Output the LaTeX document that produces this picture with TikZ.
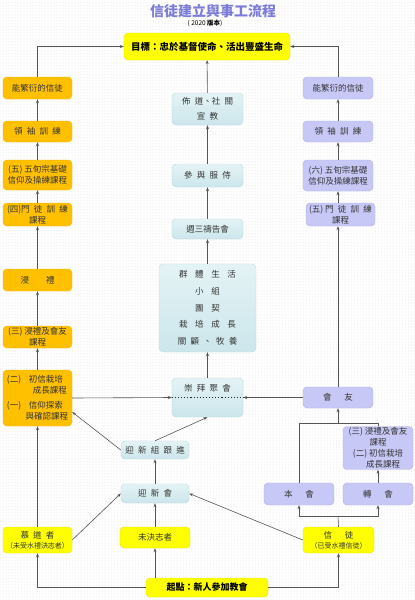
\documentclass[tikz,border=0pt]{standalone}
\usepackage{fontspec}
\setmainfont{Noto Sans CJK TC}
\usetikzlibrary{arrows.meta,calc,patterns}
\definecolor{ylw}{HTML}{FFFF00}
\definecolor{ylwb}{HTML}{E2E200}
\definecolor{org}{HTML}{FFC000}
\definecolor{orgb}{HTML}{F0B400}
\definecolor{tealA}{HTML}{E4F3F5}
\definecolor{tealB}{HTML}{CCE6EB}
\definecolor{tealb}{HTML}{BCDCE2}
\definecolor{lav}{HTML}{C8C8F7}
\definecolor{lavb}{HTML}{ADADE8}
\definecolor{ttl}{HTML}{7B7BD9}
\definecolor{lnc}{HTML}{555555}
\definecolor{txt}{HTML}{333333}
\newcommand\gp{\hspace{0.5em}}
\newcommand\gw{\hspace{0.9em}}
\begin{document}
\begin{tikzpicture}[x=1pt,y=-1pt,
  box/.style={rounded corners=4pt, inner sep=1pt, align=center, text=txt,
    font=\fontsize{8.5}{11}\selectfont},
  ybox/.style={box, fill=ylw, draw=ylwb},
  obox/.style={box, fill=org, draw=orgb},
  tbox/.style={box, top color=tealA, bottom color=tealB, draw=tealb},
  pbox/.style={box, fill=lav, draw=lavb},
  sz/.style 2 args={minimum width=#1pt, minimum height=#2pt},
  arr/.style={draw=lnc, line width=0.6pt, -{Stealth[length=4pt,width=3pt]}},
  lnk/.style={draw=lnc, line width=0.6pt}]
\useasboundingbox (0,0) rectangle (415,600);
\fill[white] (0,0) rectangle (415,600);
\fill[pattern=dots, pattern color=black!14] (0,0) rectangle (415,600);

% titles
\node[text=ttl, font=\bfseries\fontsize{14}{14}\selectfont] (title) at (213,11) {信徒建立與事工流程};
\node[font=\fontsize{6.5}{7}\selectfont, text=black] (ver) at (205,23) {( 2020 \textbf{版本})};

% goal
\node[ybox, sz={166}{27}, text=black, font=\bfseries\fontsize{9.5}{11}\selectfont] (goal) at (207,46.5) {目標：忠於基督使命、活出豐盛生命};

% left column
\node[obox, sz={69}{22}] (L1) at (37.5,88) {能繁衍的信徒};
\node[obox, sz={69}{21}] (L2) at (37.5,131.5) {領\gp 袖\gp 訓\gp 練};
\node[obox, sz={69}{30}] (L3) at (37.5,175) {(五) 五旬宗基礎\\信仰及操練課程};
\node[obox, sz={69}{23}] (L4) at (37.5,214.5) {(四)門\gp 徒\gp 訓\gp 練\\課程};
\node[obox, sz={69}{22}] (L5) at (37.5,280) {浸\hspace{2em}禮};
\node[obox, sz={69}{22}] (L6) at (37.5,337) {(三) 浸禮及會友\\課程};
\node[obox, sz={69}{56}, align=left] (L7) at (37.5,398) {(二)\hspace{0.9em}初信栽培\\\hspace{3.05em}成長課程\\[4pt](一)\hspace{0.9em}信仰探索\\\hspace{2.2em}與確認課程};
\node[ybox, sz={69}{26}] (L8) at (37.5,540) {慕\gp 道\gp 者\\[-1pt]{\fontsize{7}{8}\selectfont （未受水禮決志者）}};

% center column
\node[tbox, sz={71}{32}, font=\fontsize{8.5}{15}\selectfont] (C1) at (207.5,109) {佈\gp 道、社\gp 關\\宣\gp 教};
\node[tbox, sz={71}{23}] (C2) at (207.5,175.5) {參\gp 與\gp 服\gp 侍};
\node[tbox, sz={71}{20}] (C3) at (207.5,229) {週三禱告會};
\node[tbox, sz={97}{88}, font=\fontsize{8.5}{16.7}\selectfont] (C4) at (207.5,308) {群\gw 體\gw 生\gw 活\\小\gw 組\\團\gw 契\\栽\gw 培\gw 成\gw 長\\關\gp 顧\gp 、\gp 牧\gp 養};
\node[tbox, sz={71}{39}] (C5) at (207.5,397.5) {};
\node[text=txt, font=\fontsize{8.5}{11}\selectfont] (C5t) at (207.5,388) {崇\gp 拜\gp 聚\gp 會};
\draw[dotted, line width=1.1pt, black!85] (C5.west) -- (C5.east);

\node[tbox, sz={68}{18}] (M1) at (155,450) {迎\gp 新\gp 組\gp 跟\gp 進};
\node[tbox, sz={68}{19}] (M2) at (155,493.5) {迎\gp 新\gp 會};
\node[ybox, sz={70}{21}] (M3) at (155,537.5) {未決志者};
\node[ybox, sz={122}{19}, text=black, font=\bfseries\fontsize{9}{11}\selectfont] (S) at (207,587.5) {起點：新人參加教會};

% right column
\node[pbox, sz={70}{22}] (R1) at (338,88) {能繁衍的信徒};
\node[pbox, sz={70}{21}] (R2) at (338,131.5) {領\gp 袖\gp 訓\gp 練};
\node[pbox, sz={70}{31}] (R3) at (338,175.5) {(六) 五旬宗基礎\\信仰及操練課程};
\node[pbox, sz={69}{23}] (R4) at (340.5,214.5) {(五) 門\gp 徒\gp 訓\gp 練\\課程};
\node[pbox, sz={70}{21}] (R5) at (338,397.5) {會\hspace{1.5em}友};
\node[pbox, sz={70}{42}] (R6) at (378,448) {(三) 浸禮及會友\\課程\\(二) 初信栽培\\\hspace{1.2em}成長課程};
\node[pbox, sz={70}{22}] (R7) at (299,494) {本\hspace{1.5em}會};
\node[pbox, sz={70}{22}] (R8) at (378,494) {轉\hspace{1.5em}會};
\node[ybox, sz={71}{26}] (R9) at (338.5,540) {信\hspace{1.5em}徒\\[-1pt]{\fontsize{7}{8}\selectfont （已受水禮信徒）}};

% left connectors
\draw[arr] (L8) -- (L7);
\draw[arr] (L7) -- (L6);
\draw[arr] (L6) -- (L5);
\draw[arr] (L5) -- (L4);
\draw[arr] (L4) -- (L3);
\draw[arr] (L3) -- (L2);
\draw[arr] (L2) -- (L1);
\draw[arr] (L1.north) |- (goal.west);

% center connectors
\draw[arr] (C5) -- (C4);
\draw[arr] (C4) -- (C3);
\draw[arr] (C3) -- (C2);
\draw[arr] (C2) -- (C1);
\draw[arr] (C1) -- (goal);
\draw[arr] (L7.east) -- (C5.west);
\draw[arr] (R5.west) -- (C5.east);
\draw[arr] (M1.west) -- ($(L7.east)+(0,14)$);
\draw[arr] (M1.north) -- (C5.south);
\draw[arr] (M2) -- (M1);
\draw[arr] (M3) -- (M2);
\draw[arr] (M3.south |- S.north) -- (M3.south);
\draw[arr] (L8.east) -- (M2.west);
\draw[arr] (R9.west) -- (M2.east);
\draw[arr] (S.west) -| (L8.south);
\draw[arr] (S.east) -| (R9.south);

% right connectors
\coordinate (rj) at (338,516);
\coordinate (uj) at (338,423);
\draw[lnk] (R9.north) -- (rj);
\draw[arr] (rj) -| (R7.south);
\draw[arr] (rj) -| (R8.south);
\draw[arr] (R8) -- (R6);
\draw[lnk] (R7.north) |- (uj);
\draw[lnk] (R6.north) |- (uj);
\draw[arr] (uj) -- (R5.south);
\draw[arr] (R5.north) -- (R5.north |- R4.south);
\draw[arr] (R4.north -| R3.south) -- (R3.south);
\draw[arr] (R3) -- (R2);
\draw[arr] (R2) -- (R1);
\draw[arr] (R1.north) |- (goal.east);
\end{tikzpicture}
\end{document}
